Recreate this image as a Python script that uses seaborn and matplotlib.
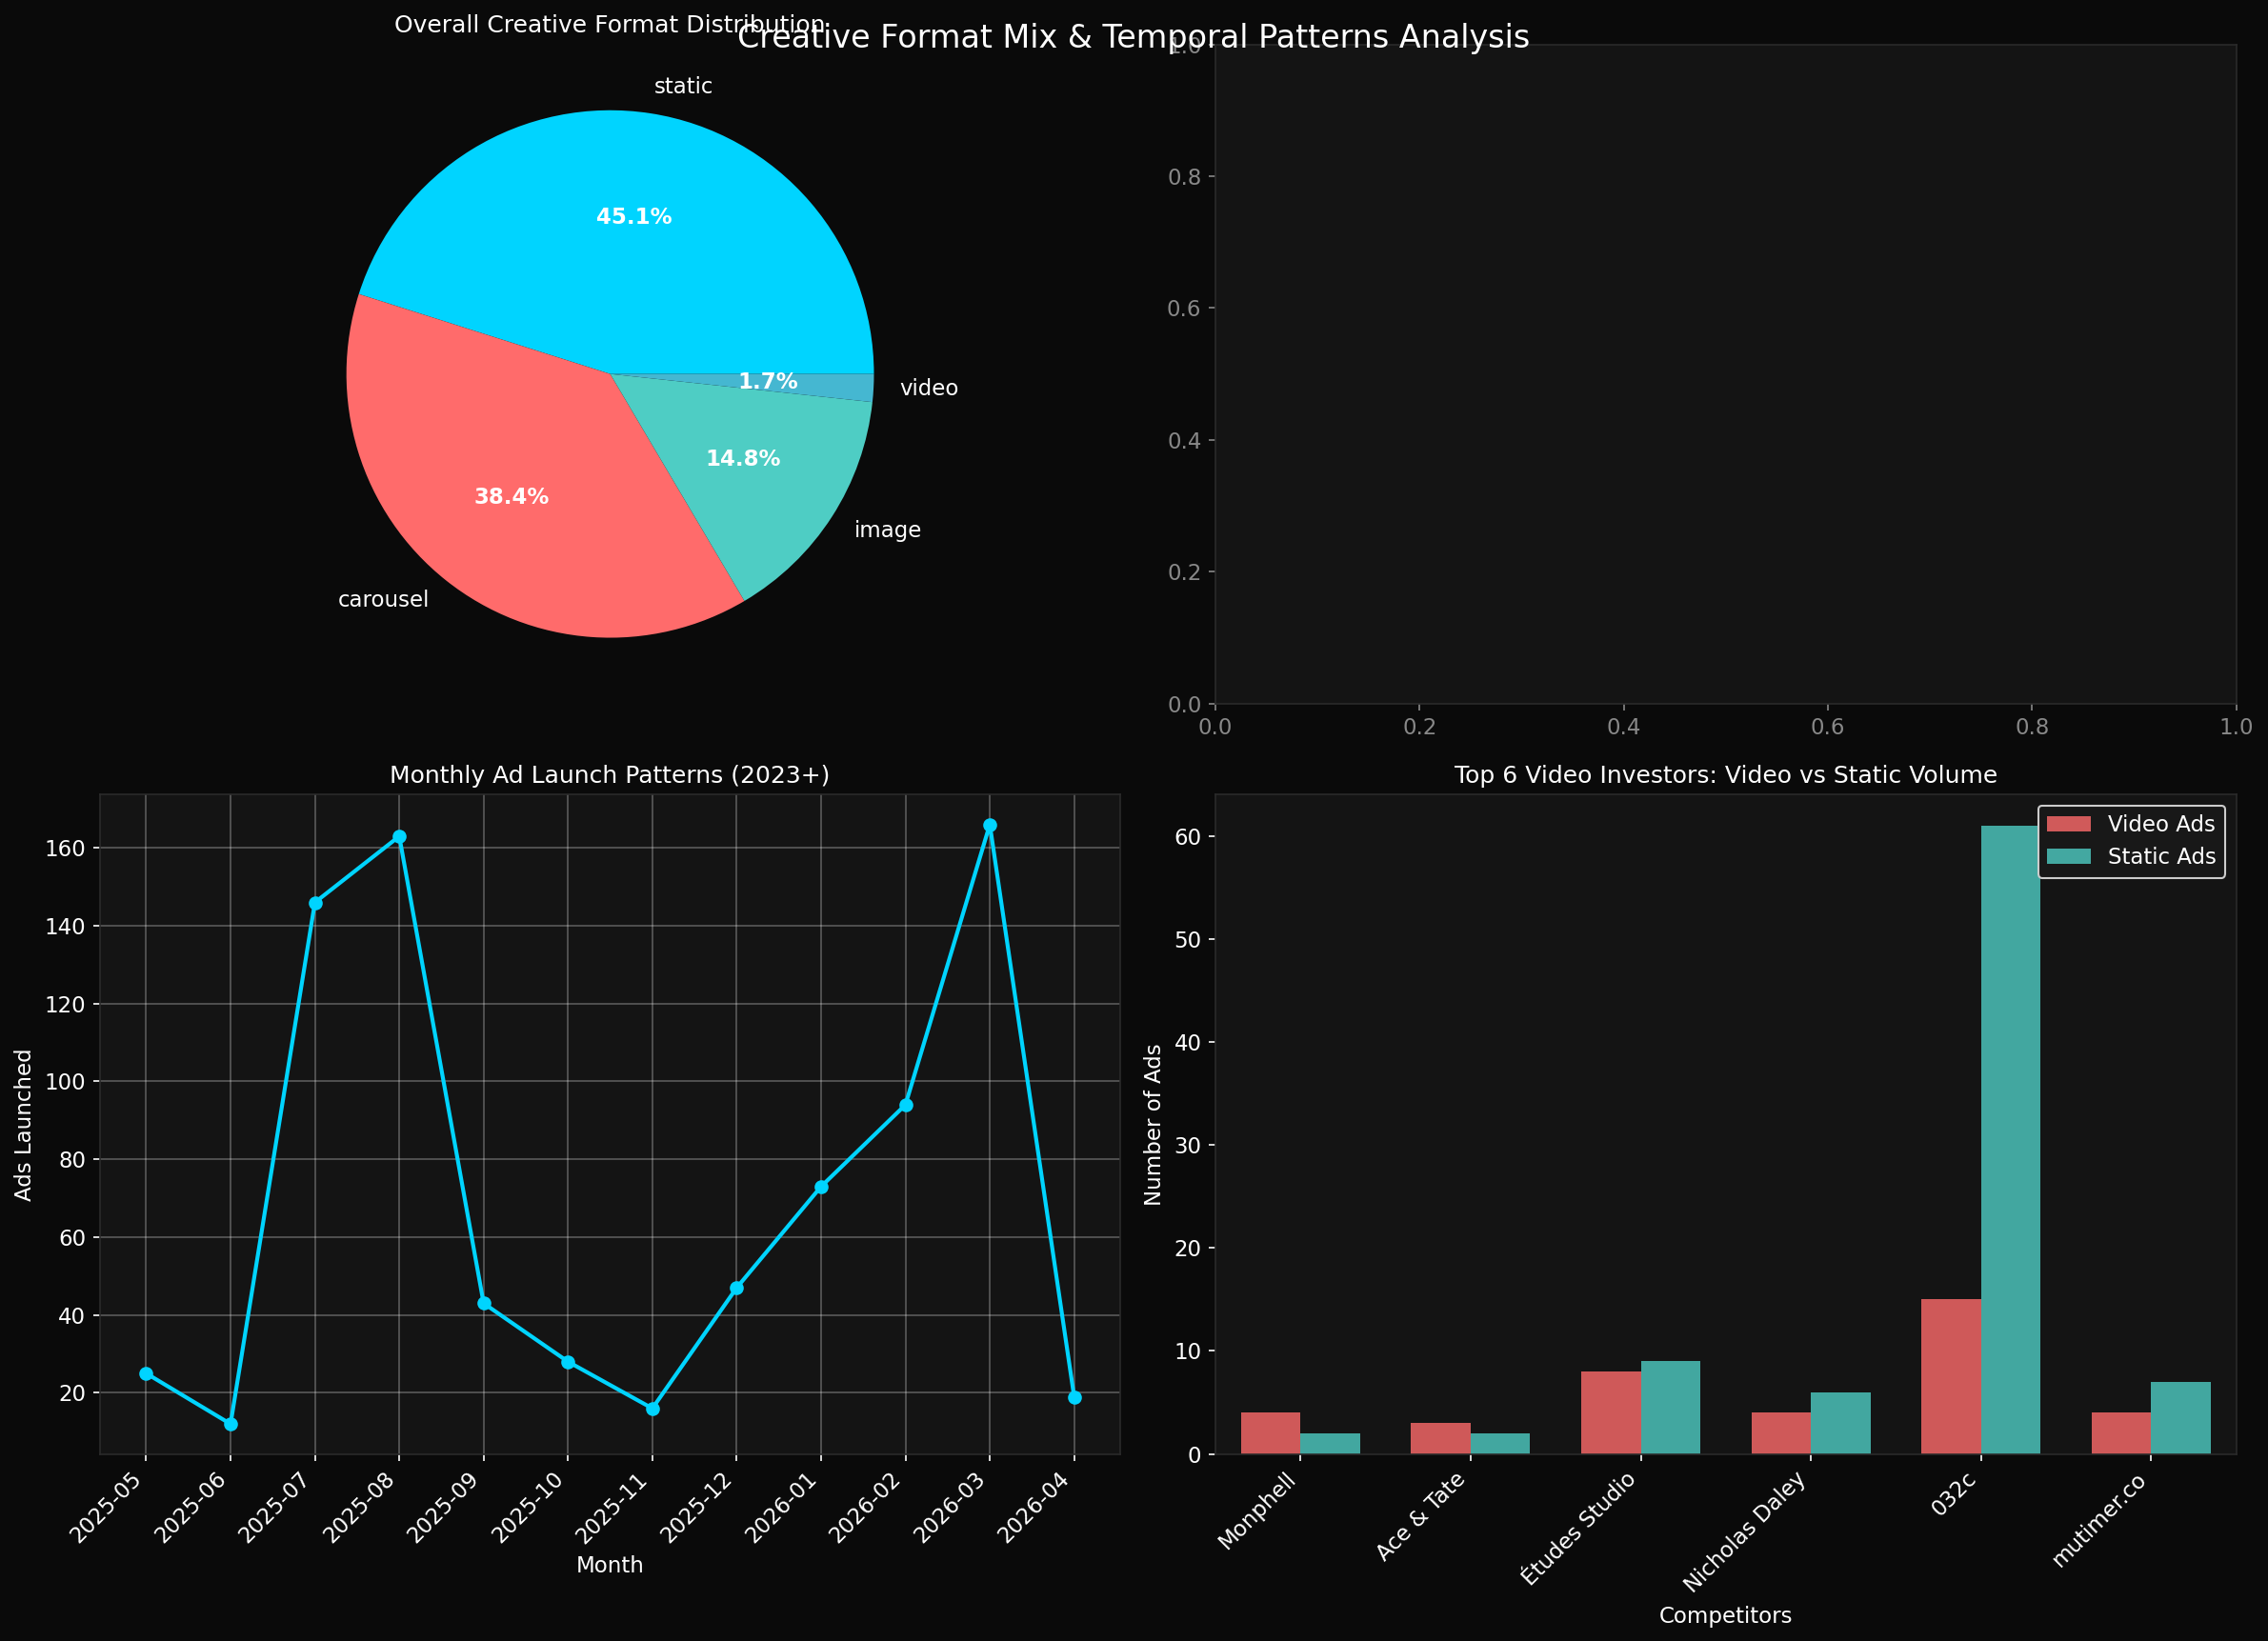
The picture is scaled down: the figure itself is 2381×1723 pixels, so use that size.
import pandas as pd
import matplotlib
matplotlib.use("Agg")
import matplotlib.pyplot as plt
import seaborn as sns

# Format mix (percent of all ads)
formats = ["static", "carousel", "image", "video"]
format_share = [45.1, 38.4, 14.8, 1.7]
format_colors = ["#00D4FF", "#FF6B6B", "#4ECDC4", "#45B7D1"]

# Monthly launches
months = ["2025-05", "2025-06", "2025-07", "2025-08", "2025-09", "2025-10",
          "2025-11", "2025-12", "2026-01", "2026-02", "2026-03", "2026-04"]
ads_launched = [25, 12, 146, 163, 43, 28, 16, 47, 73, 94, 166, 19]

# Top video investors
competitors = ["Monphell", "Ace & Tate", "Études Studio", "Nicholas Daley", "032c", "mutimer.co"]
video_ads = [4, 3, 8, 4, 15, 4]
static_ads = [2, 2, 9, 6, 61, 7]

BG = "#0a0a0a"
AX_BG = "#141414"

sns.set_style("dark")
plt.rcParams.update({
    "figure.facecolor": BG,
    "axes.facecolor": AX_BG,
    "axes.edgecolor": "#2a2a2a",
    "axes.labelcolor": "white",
    "text.color": "white",
    "xtick.color": "#888888",
    "ytick.color": "#888888",
    "xtick.bottom": True,
    "ytick.left": True,
    "patch.edgecolor": "none",
    "font.family": ["DejaVu Sans"],
    "font.size": 11,
    "axes.titlesize": 12,
    "axes.labelsize": 11,
    "xtick.labelsize": 11,
    "ytick.labelsize": 11,
    "legend.fontsize": 11,
})

fig, axes = plt.subplots(2, 2, figsize=(2381 / 150, 1723 / 150), dpi=150)
fig.subplots_adjust(left=0.044, right=0.986, bottom=0.114, top=0.973,
                    wspace=0.093, hspace=0.138)
fig.suptitle("Creative Format Mix & Temporal Patterns Analysis", fontsize=16,
             color="white", y=0.986)

# Pie
ax = axes[0, 0]
wedges, texts, autotexts = ax.pie(format_share, labels=formats, colors=format_colors,
                                  autopct="%1.1f%%", wedgeprops={"linewidth": 0},
                                  textprops={"color": "white", "fontsize": 11})
for t in autotexts:
    t.set_fontweight("bold")
ax.set_title("Overall Creative Format Distribution", color="white")

# Empty panel (left untouched)

# Monthly line
ax = axes[1, 0]
line_df = pd.DataFrame({"Month": months, "Ads": ads_launched})
sns.lineplot(data=line_df, x="Month", y="Ads", sort=False, color="#00D4FF",
             linewidth=2, marker="o", markersize=6, markeredgewidth=1,
             markeredgecolor="#00D4FF", ax=ax)
ax.grid(True, color="white", alpha=0.3)
ax.set_title("Monthly Ad Launch Patterns (2023+)", color="white")
ax.set_xlabel("Month")
ax.set_ylabel("Ads Launched")
ax.tick_params(colors="white")
plt.setp(ax.get_xticklabels(), rotation=45, ha="right")

# Grouped bars
ax = axes[1, 1]
bar_df = pd.concat([
    pd.DataFrame({"Competitor": competitors, "Ads": video_ads, "Type": "Video Ads"}),
    pd.DataFrame({"Competitor": competitors, "Ads": static_ads, "Type": "Static Ads"}),
], ignore_index=True)
sns.barplot(data=bar_df, x="Competitor", y="Ads", hue="Type",
            palette={"Video Ads": "#FF6B6B", "Static Ads": "#4ECDC4"},
            saturation=1, alpha=0.8, width=0.7, linewidth=0, ax=ax)
ax.set_title("Top 6 Video Investors: Video vs Static Volume", color="white")
ax.set_xlabel("Competitors")
ax.set_ylabel("Number of Ads")
ax.tick_params(colors="white")
plt.setp(ax.get_xticklabels(), rotation=45, ha="right")
leg = ax.legend(loc="upper right", facecolor="#181818", edgecolor="#cccccc",
                labelcolor="white", framealpha=1)

fig.savefig("out.png", dpi=150, facecolor=BG)
